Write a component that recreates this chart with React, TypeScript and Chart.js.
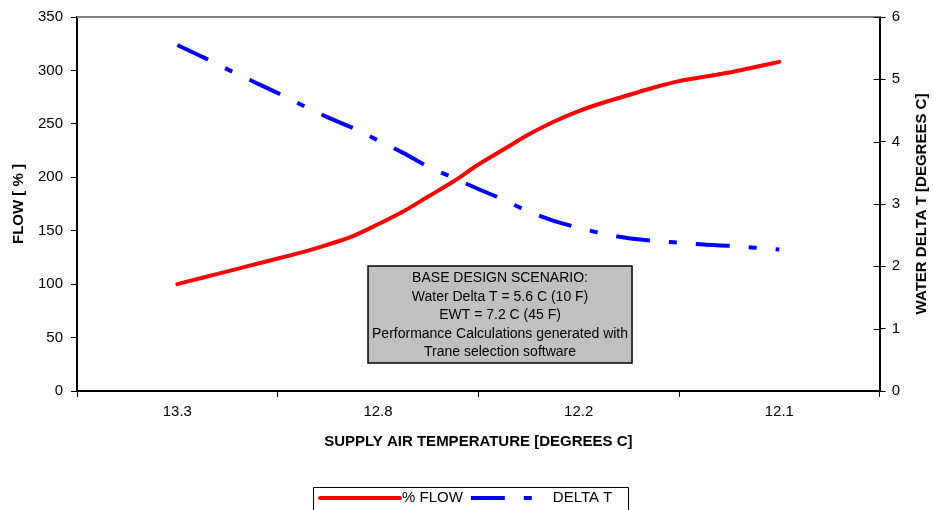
import React, { useEffect, useRef } from 'react';
import { Chart, registerables } from 'chart.js';

Chart.register(...registerables);

const categories = ['13.3', '12.8', '12.2', '12.1'];
const samplePos = [0, 0.125, 0.25, 0.375, 0.5, 0.625, 0.75, 0.875, 1, 1.125, 1.25, 1.375, 1.5, 1.625, 1.75, 1.875, 2, 2.125, 2.25, 2.375, 2.5, 2.625, 2.75, 2.875, 3];
const flowPct = [100, 106, 112, 118, 124, 130, 137, 145, 156, 168, 182, 196, 212, 226, 240, 252, 262, 270, 277, 284, 290, 294, 298, 303, 308];
const deltaT = [5.55, 5.36, 5.16, 4.97, 4.78, 4.58, 4.39, 4.22, 4.02, 3.82, 3.6, 3.42, 3.24, 3.07, 2.88, 2.73, 2.62, 2.52, 2.45, 2.41, 2.38, 2.35, 2.33, 2.3, 2.27];
const seriesNames = ['% FLOW', 'DELTA T'];
const xTitle = 'SUPPLY AIR TEMPERATURE [DEGREES C]';
const yTitle = 'FLOW [ % ]';
const y2Title = 'WATER DELTA T [DEGREES C]';
const noteLines = [
  'BASE DESIGN SCENARIO:',
  'Water Delta T = 5.6 C (10 F)',
  'EWT = 7.2 C (45 F)',
  'Performance Calculations generated with',
  'Trane selection software',
];

const FONT = "'Liberation Sans', Arial, sans-serif";
const BLUE_DASH = [34, 19, 8, 19];

const decorPlugin = {
  id: 'decor',
  afterDraw(chart: any) {
    const { ctx, chartArea: ca } = chart;
    ctx.save();
    // top border of plot
    ctx.strokeStyle = '#808080';
    ctx.lineWidth = 2;
    ctx.beginPath();
    ctx.moveTo(ca.left, ca.top);
    ctx.lineTo(ca.right + 1, ca.top);
    ctx.stroke();
    // inner half of right-axis cross ticks
    const y2 = chart.scales.y2;
    ctx.strokeStyle = '#000';
    ctx.lineWidth = 1;
    ctx.beginPath();
    y2.ticks.forEach((t: any) => {
      const py = Math.round(y2.getPixelForValue(t.value)) + 0.5;
      ctx.moveTo(ca.right - 6, py);
      ctx.lineTo(ca.right, py);
    });
    ctx.stroke();
    // right axis title (reads bottom to top)
    ctx.save();
    ctx.translate(922, (ca.top + ca.bottom) / 2);
    ctx.rotate(-Math.PI / 2);
    ctx.font = `bold 15px ${FONT}`;
    ctx.fillStyle = '#000';
    ctx.textAlign = 'center';
    ctx.textBaseline = 'middle';
    ctx.fillText(y2Title, 0, 0);
    ctx.restore();

    // note box
    const bx = ca.left + 291;
    const by = ca.top + 249;
    const bw = 264;
    const bh = 97;
    ctx.fillStyle = '#C0C0C0';
    ctx.fillRect(bx, by, bw, bh);
    ctx.strokeStyle = '#000';
    ctx.lineWidth = 1.5;
    ctx.strokeRect(bx, by, bw, bh);
    ctx.fillStyle = '#000';
    ctx.font = `14px ${FONT}`;
    ctx.textAlign = 'center';
    ctx.textBaseline = 'middle';
    noteLines.forEach((line, i) => {
      ctx.fillText(line, bx + bw / 2, by + 12.5 + i * 18.5);
    });

    // legend
    const lx = 313;
    const ly = 487;
    const lw = 315;
    ctx.strokeStyle = '#000';
    ctx.lineWidth = 1;
    ctx.beginPath();
    ctx.moveTo(lx + 0.5, 520);
    ctx.lineTo(lx + 0.5, ly + 0.5);
    ctx.lineTo(lx + lw + 0.5, ly + 0.5);
    ctx.lineTo(lx + lw + 0.5, 520);
    ctx.stroke();
    const cy = ly + 11;
    const ds = chart.data.datasets;
    let x = lx + 7;
    ctx.font = `15px ${FONT}`;
    ctx.textAlign = 'left';
    ds.forEach((d: any, i: number) => {
      ctx.strokeStyle = d.borderColor;
      ctx.lineWidth = d.borderWidth;
      ctx.lineCap = i === 0 ? 'round' : 'butt';
      ctx.setLineDash(d.borderDash || []);
      ctx.beginPath();
      ctx.moveTo(x, cy);
      ctx.lineTo(x + 80, cy);
      ctx.stroke();
      ctx.setLineDash([]);
      ctx.fillStyle = '#000';
      ctx.fillText(d.label, x + 82, cy);
      x += 82 + ctx.measureText(d.label).width + 8;
    });
    ctx.restore();
  },
};

export default function App() {
  const ref = useRef<HTMLCanvasElement>(null);
  useEffect(() => {
    if (!ref.current) return;
    Chart.defaults.font.family = FONT;
    Chart.defaults.color = '#000';
    const chart = new Chart(ref.current, {
      type: 'line',
      data: {
        labels: categories,
        datasets: [
          {
            label: seriesNames[0],
            data: samplePos.map((p, i) => ({ x: p, y: flowPct[i] })),
            xAxisID: 'xv',
            yAxisID: 'y',
            borderColor: '#FF0000',
            borderWidth: 4,
            pointRadius: 0,
            tension: 0.4,
            cubicInterpolationMode: 'monotone',
            borderCapStyle: 'round',
            fill: false,
          },
          {
            label: seriesNames[1],
            data: samplePos.map((p, i) => ({ x: p, y: deltaT[i] })),
            xAxisID: 'xv',
            yAxisID: 'y2',
            borderColor: '#0000FF',
            borderWidth: 4,
            borderDash: BLUE_DASH,
            pointRadius: 0,
            tension: 0.4,
            cubicInterpolationMode: 'monotone',
            fill: false,
          },
        ],
      },
      options: {
        responsive: false,
        animation: false,
        devicePixelRatio: 1,
        layout: { padding: { top: 16, left: 0, right: 27, bottom: 55 } },
        plugins: { legend: { display: false }, tooltip: { enabled: false } },
        scales: {
          x: {
            type: 'category',
            offset: true,
            grid: { offset: true, drawOnChartArea: false, tickLength: 6, color: '#000', tickWidth: 1 },
            border: { color: '#000', width: 2 },
            ticks: { font: { size: 15 }, padding: 6, color: '#000', maxRotation: 0, autoSkip: false },
            title: {
              display: true,
              text: xTitle,
              font: { size: 15, weight: 'bold' },
              padding: { top: 6, bottom: 4 },
              color: '#000',
            },
          },
          xv: {
            type: 'linear',
            display: false,
            min: -0.5,
            max: 3.5,
          },
          y: {
            type: 'linear',
            position: 'left',
            min: 0,
            max: 350,
            ticks: { stepSize: 50, font: { size: 15 }, padding: 8, color: '#000' },
            grid: { drawOnChartArea: false, tickLength: 6, color: '#000' },
            border: { color: '#000', width: 2 },
            title: {
              display: true,
              text: yTitle,
              font: { size: 15, weight: 'bold' },
              padding: { top: 10, bottom: 2 },
              color: '#000',
            },
          },
          y2: {
            type: 'linear',
            position: 'right',
            min: 0,
            max: 6,
            ticks: { stepSize: 1, font: { size: 15 }, padding: 6, color: '#000' },
            grid: { drawOnChartArea: false, tickLength: 6, color: '#000' },
            border: { color: '#000', width: 2 },
          },
        },
      },
      plugins: [decorPlugin],
    } as any);
    return () => chart.destroy();
  }, []);
  return (
    <div style={{ position: 'fixed', left: 0, top: 0, width: 933, height: 510, background: '#fff' }}>
      <canvas ref={ref} width={933} height={510} style={{ display: 'block' }} />
    </div>
  );
}
